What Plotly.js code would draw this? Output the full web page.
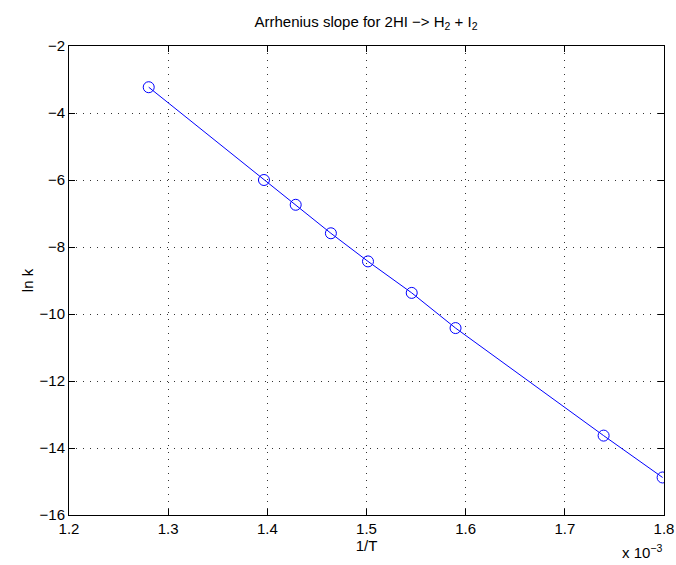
<!DOCTYPE html>
<html>
<head>
<meta charset="utf-8">
<script src="https://cdn.plot.ly/plotly-3.0.1.min.js"></script>
<style>html,body{margin:0;padding:0;background:#fff;}</style>
</head>
<body>
<div id="chart" style="width:676px;height:565px;"></div>
<script>
// 1/T values in units of 1e-3 K^-1
var invT = [1.2804, 1.3966, 1.4286, 1.4641, 1.5015, 1.5456, 1.5898, 1.7391, 1.7986];
// ln k values
var lnK = [-3.23, -6.00, -6.74, -7.59, -8.43, -9.37, -10.42, -13.63, -14.88];
var xTicks = [1.2, 1.3, 1.4, 1.5, 1.6, 1.7, 1.8];
var yTicks = [-16, -14, -12, -10, -8, -6, -4, -2];

var font = {family: 'Liberation Sans, Arial, Helvetica, sans-serif', size: 15, color: '#000'};

var trace = {
  x: invT, y: lnK, type: 'scatter', mode: 'lines+markers',
  line: {color: '#0000ff', width: 1},
  marker: {symbol: 'circle-open', size: 11, color: '#0000ff', line: {width: 1, color: '#0000ff'}},
  showlegend: false, hoverinfo: 'x+y'
};

var layout = {
  width: 676, height: 565,
  margin: {l: 69, r: 12, t: 46, b: 50, pad: 0},
  paper_bgcolor: '#fff', plot_bgcolor: '#fff',
  font: font,
  title: {text: 'Arrhenius slope for 2HI −> H<sub>2</sub> + I<sub>2</sub>', font: {family: font.family, size: 15, color: '#000'}, x: 0.5415, xanchor: 'center', y: 0.962, yanchor: 'middle'},
  xaxis: {
    range: [1.2, 1.8], tickvals: xTicks, ticktext: xTicks.map(function(v){return v.toFixed(1);}),
    ticks: 'inside', ticklen: 6, tickcolor: '#000', tickwidth: 1,
    showline: true, linecolor: '#000', linewidth: 1, mirror: 'ticks',
    showgrid: true, gridcolor: '#333', griddash: '1px,6px', gridwidth: 1,
    zeroline: false, tickfont: font,
    title: {text: '1/T', font: font, standoff: 4}
  },
  yaxis: {
    range: [-16, -2], tickvals: yTicks, ticktext: yTicks.map(function(v){return v < 0 ? '\u2212' + Math.abs(v) : String(v);}),
    ticks: 'inside', ticklen: 6, tickcolor: '#000', tickwidth: 1,
    showline: true, linecolor: '#000', linewidth: 1, mirror: 'ticks',
    showgrid: true, gridcolor: '#333', griddash: '1px,6px', gridwidth: 1,
    zeroline: false, tickfont: font,
    title: {text: 'ln k', font: font, standoff: 2}
  },
  annotations: [{
    text: 'x 10<sup>−3</sup>', xref: 'paper', yref: 'paper', x: 1, y: -0.078,
    xanchor: 'right', yanchor: 'middle', showarrow: false, font: font
  }]
};

Plotly.newPlot('chart', [trace], layout, {displayModeBar: false, staticPlot: false});
</script>
</body>
</html>
